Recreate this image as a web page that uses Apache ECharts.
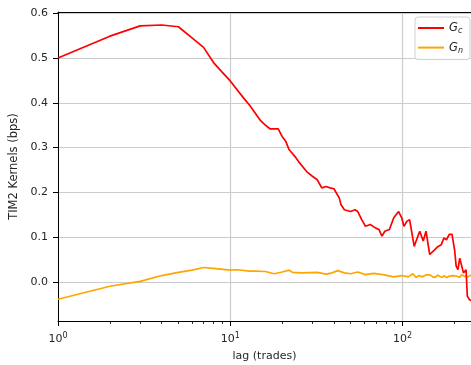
<!DOCTYPE html>
<html>
<head>
<meta charset="utf-8">
<script src="https://cdn.jsdelivr.net/npm/echarts@6/dist/echarts.min.js"></script>
<style>html,body{margin:0;padding:0;background:#fff}#c{width:471px;height:365px}</style>
</head>
<body>
<div id="c"></div>
<script>
// Lags (trades) and kernel values (bps)
var gcLags = [1,2,3,4,5,6,7,8,9,10,12,13,15,16,17,19,20,21,22,24,25,28,30,32,34,36,38,40,41,43,44,46,50,53,55,58,61,65,66,70,73,76,79,84,86,89,95,99,102,106,110,112,117,120,126,132,137,144,154,161,168,174,180,187,194,197,201,205,210,215,219,226,234,238,245,250];
var gcValues = [0.500,0.549,0.572,0.574,0.570,0.545,0.524,0.490,0.468,0.449,0.410,0.394,0.360,0.350,0.342,0.342,0.325,0.314,0.295,0.278,0.268,0.245,0.236,0.228,0.210,0.213,0.210,0.208,0.206,0.187,0.172,0.161,0.157,0.161,0.157,0.139,0.124,0.128,0.132,0.120,0.117,0.102,0.113,0.117,0.120,0.143,0.157,0.143,0.124,0.135,0.139,0.143,0.079,0.091,0.113,0.091,0.113,0.061,0.072,0.079,0.083,0.098,0.094,0.106,0.106,0.106,0.070,0.035,0.027,0.053,0.050,0.020,0.027,-0.032,-0.040,-0.042];
var gnLags = [1,2,3,4,5,6,7,8,10,11,13,14,16,18,20,22,23,26,32,36,39,42,46,50,55,61,68,77,89,99,108,115,120,125,130,138,145,150,155,160,165,170,175,180,185,190,197,205,210,215,221,230,240,250];
var gnValues = [-0.039,-0.010,0.001,0.014,0.021,0.026,0.032,0.030,0.026,0.027,0.024,0.024,0.023,0.018,0.022,0.026,0.021,0.020,0.021,0.017,0.020,0.025,0.020,0.018,0.022,0.016,0.019,0.016,0.011,0.014,0.011,0.018,0.010,0.014,0.011,0.016,0.015,0.011,0.010,0.015,0.012,0.010,0.014,0.009,0.012,0.008,0.014,0.013,0.009,0.010,0.016,0.012,0.011,0.015];
var xMajor = [1, 10, 100];
var xMinor = [2,3,4,5,6,7,8,9,20,30,40,50,60,70,80,90,200];
var seriesNames = ['Gc', 'Gn'];

function pairs(xs, ys) { return xs.map(function (x, i) { return [x, ys[i]]; }); }

var FONT = 'DejaVu Sans';
var TXT = '#262626';
var xMin = 1, xMax = 250, yMin = -0.0876, yMax = 0.603;

var chart = echarts.init(document.getElementById('c'), null, {renderer: 'canvas'});
var baseX = {type: 'log', logBase: 10, min: xMin, max: xMax, gridIndex: 0};
chart.setOption({
  animation: false,
  backgroundColor: '#fff',
  grid: {left: 58, top: 12, right: 0, bottom: 44, containLabel: false, outerBoundsMode: 'none'},
  legend: {
    orient: 'vertical', right: 1, top: 17,
    data: seriesNames,
    icon: 'rect',
    itemWidth: 26, itemHeight: 2, itemGap: 5.6,
    padding: [4, 7, 5, 3],
    backgroundColor: 'rgba(255,255,255,0.85)',
    borderColor: '#d0d0d0', borderWidth: 1, borderRadius: 3,
    formatter: function (n) { return '{g|G}{s|' + n.charAt(1) + '}'; },
    textStyle: {
      color: TXT, fontFamily: FONT,
      rich: {
        g: {fontSize: 11.5, lineHeight: 14, fontStyle: 'italic', fontFamily: FONT, color: TXT},
        s: {fontSize: 8, lineHeight: 14, fontStyle: 'italic', fontFamily: FONT, color: TXT, padding: [6, 0, 0, 0]}
      }
    }
  },
  xAxis: [
    Object.assign({}, baseX, {
      position: 'bottom',
      name: 'lag (trades)', nameLocation: 'middle', nameGap: 30,
      nameTextStyle: {fontFamily: FONT, fontSize: 11, color: TXT},
      axisLine: {show: true, onZero: false, lineStyle: {color: '#000', width: 1}},
      axisTick: {show: true, length: 5, lineStyle: {color: '#000', width: 1}, customValues: xMajor},
      axisLabel: {
        show: true, margin: 11, customValues: xMajor,
        formatter: function (v) { return '{b|10}{p|' + Math.round(Math.log10(v)) + '}'; },
        rich: {
          b: {fontSize: 11, fontFamily: FONT, color: TXT},
          p: {fontSize: 8, fontFamily: FONT, color: TXT, padding: [0, 0, 7, 0]}
        }
      },
      splitLine: {show: true, lineStyle: {color: '#cccccc', width: 1.2}},
      minorTick: {show: false}, minorSplitLine: {show: false}
    }),
    Object.assign({}, baseX, {
      position: 'bottom',
      axisLine: {show: false, onZero: false},
      axisTick: {show: true, length: 3, lineStyle: {color: '#000', width: 0.8}, customValues: xMinor},
      axisLabel: {show: false},
      splitLine: {show: false}
    }),
    Object.assign({}, baseX, {
      position: 'top',
      axisLine: {show: true, onZero: false, lineStyle: {color: '#000', width: 1}},
      axisTick: {show: false}, axisLabel: {show: false}, splitLine: {show: false}
    })
  ],
  yAxis: {
    type: 'value', min: yMin, max: yMax, splitNumber: 6,
    name: 'TIM2 Kernels (bps)', nameLocation: 'middle', nameGap: 28,
    nameTextStyle: {fontFamily: FONT, fontSize: 11.5, color: TXT},
    axisLine: {show: true, onZero: false, lineStyle: {color: '#000', width: 1}},
    axisTick: {show: true, length: 5, lineStyle: {color: '#000', width: 1}},
    axisLabel: {
      show: true, margin: 10, showMinLabel: false, showMaxLabel: false,
      fontFamily: FONT, fontSize: 11, color: TXT,
      formatter: function (v) { return v.toFixed(1); }
    },
    splitLine: {show: true, lineStyle: {color: '#cccccc', width: 1}}
  },
  series: [
    {name: seriesNames[0], type: 'line', xAxisIndex: 0, data: pairs(gcLags, gcValues),
     symbol: 'none', showSymbol: false, color: '#ff0000',
     lineStyle: {color: '#ff0000', width: 1.7}, z: 3},
    {name: seriesNames[1], type: 'line', xAxisIndex: 0, data: pairs(gnLags, gnValues),
     symbol: 'none', showSymbol: false, color: '#ffa500',
     lineStyle: {color: '#ffa500', width: 1.7}, z: 2}
  ]
});
</script>
</body>
</html>
